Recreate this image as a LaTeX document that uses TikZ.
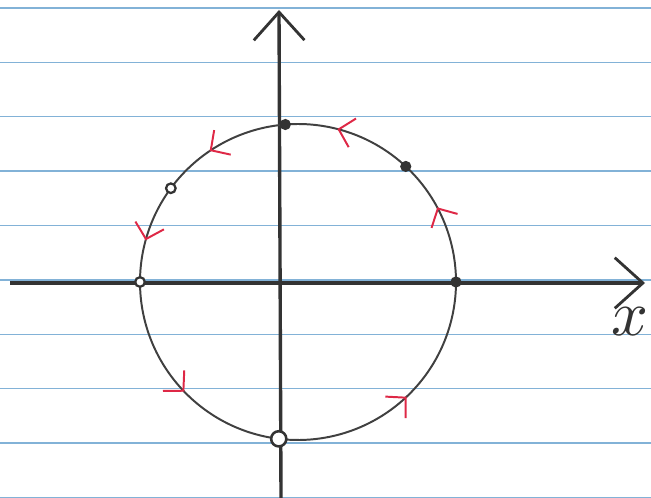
\documentclass[tikz,border=0pt]{standalone}
\usepackage{tikz}
\usetikzlibrary{arrows.meta,decorations.markings}
\definecolor{flowred}{RGB}{222,40,70}
\definecolor{ruled}{RGB}{130,178,215}
\tikzstyle{vx}=[shape=circle, minimum size=2.8mm, inner sep=0, fill=black!80]
\tikzstyle{ox}=[shape=circle, minimum size=2.4mm, inner sep=0, draw=black!80, line width=1.6pt, fill=white]
\tikzstyle{axis}=[line width=2.4pt, black!80, -{Straight Barb[length=20pt,width=36pt,line width=2pt]}]
\tikzset{flow/.style={black!75, line width=1.4pt, postaction={decorate},
  decoration={markings, mark=at position #1 with {\arrow[flowred, line width=1.4pt]{Straight Barb[length=10pt,width=21pt]}}}}}

\begin{document}
\begin{tikzpicture}[x=0.025cm,y=0.025cm]
\useasboundingbox (0,0) rectangle (651,498);
\foreach \k in {0,...,9}{\draw[ruled, line width=1pt] (0,490-54.4*\k) -- (651,490-54.4*\k);}
% axes
\coordinate (xl) at (10,215);
\coordinate (xr) at (645,215);
\coordinate (yb) at (281,0);
\coordinate (yt) at (279,488);
\draw[axis] (xl) -- (xr);
\draw[axis] (yb) -- (yt);
\node[black!80, inner sep=0] (xlab) at (630,176) {\scalebox{4.6}{$x$}};
% circle with flow
\begin{scope}[shift={(298,216)}]
\foreach \s/\e/\p in {0/47/0.6, 47/94.6/0.6, 94.6/143.6/0.6, 143.6/180/0.58, 180/263/0.53, 263/360/0.52}{\draw[flow=\p] (\s:158) arc (\s:\e:158);}
\foreach \a/\n in {0/r, 47/ur, 94.6/t}{\draw (\a:158) node[vx](p\n){};}
\foreach \a/\n in {143.6/ul, 180/l}{\draw (\a:158) node[ox](p\n){};}
\draw (263:158) node[ox, minimum size=3.8mm, line width=1.8pt](pb){};
\end{scope}
\end{tikzpicture}
\end{document}
